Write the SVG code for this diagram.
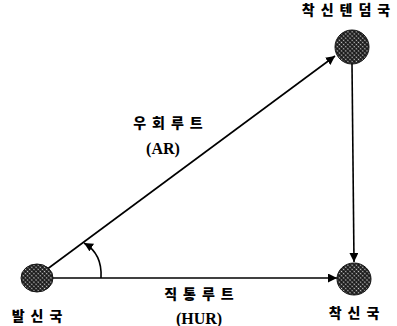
<svg xmlns="http://www.w3.org/2000/svg" width="397" height="326" viewBox="0 0 397 326">
<style>
.node{fill:url(#dots);stroke:#111;stroke-width:1}
.edge{stroke:#000;stroke-width:1.6;fill:none}
.ko{font-family:"Noto Sans CJK KR","Noto Sans",sans-serif;font-weight:900;font-size:14px;letter-spacing:6px;fill:#000}
.lat{font-family:"Liberation Serif",serif;font-weight:bold;font-size:16px;fill:#000}
</style>
<defs>
<pattern id="dots" width="3" height="3" patternUnits="userSpaceOnUse" patternTransform="rotate(45)">
<rect width="3" height="3" fill="#1a1a1a"/>
<circle cx="1.5" cy="1.5" r="0.8" fill="#ccc"/>
</pattern>
<marker id="arr" viewBox="0 0 10 10" refX="10" refY="5" markerWidth="9" markerHeight="9" markerUnits="userSpaceOnUse" orient="auto">
<path d="M0,0 L10,5 L0,10 z" fill="#000"/>
</marker>
</defs>
<g id="connectors">
<line class="edge" x1="46" y1="270" x2="335" y2="56" marker-end="url(#arr)"/>
<line class="edge" x1="53" y1="278" x2="337" y2="278" marker-end="url(#arr)"/>
<line class="edge" x1="352" y1="64" x2="354" y2="262" marker-end="url(#arr)"/>
<path class="edge" d="M101,278 C102,262 96,250 84,243" marker-end="url(#arr)"/>
</g>
<g id="n-src">
<ellipse class="node" cx="37" cy="278" rx="16" ry="14"/>
<text class="ko" x="40" y="321" text-anchor="middle">발신국</text>
</g>
<g id="n-tandem">
<ellipse class="node" cx="352" cy="47" rx="17" ry="17"/>
<text class="ko" x="349" y="15" text-anchor="middle">착신텐덤국</text>
</g>
<g id="n-dst">
<ellipse class="node" cx="354" cy="279" rx="17" ry="16"/>
<text class="ko" x="357" y="318" text-anchor="middle">착신국</text>
</g>
<g id="labels">
<text class="ko" x="171" y="128" text-anchor="middle">우회루트</text>
<text class="lat" x="163" y="154" text-anchor="middle">(AR)</text>
<text class="ko" x="202" y="299" text-anchor="middle">직통루트</text>
<text class="lat" x="199" y="324" text-anchor="middle">(HUR)</text>
</g>
</svg>
